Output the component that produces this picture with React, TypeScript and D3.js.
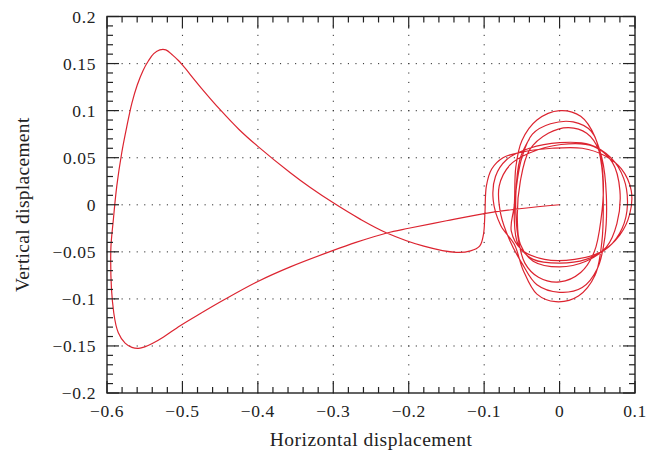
import React, { useRef, useEffect } from 'react';
import * as d3 from 'd3';

// axis setup
const xDomain: [number, number] = [-0.6, 0.1];
const yDomain: [number, number] = [-0.2, 0.2];
const xTickValues = [-0.6, -0.5, -0.4, -0.3, -0.2, -0.1, 0, 0.1];
const yTickValues = [-0.2, -0.15, -0.1, -0.05, 0, 0.05, 0.1, 0.15, 0.2];
const xLabel = 'Horizontal displacement';
const yLabel = 'Vertical displacement';

// trajectory: long excursion to the left
const tailX = [0, -0.05, -0.1, -0.15, -0.2, -0.229, -0.27, -0.3, -0.357, -0.4, -0.446, -0.475, -0.503, -0.525, -0.54, -0.55, -0.558, -0.567, -0.576, -0.585, -0.591, -0.595, -0.5916, -0.587, -0.5805, -0.574, -0.567, -0.56, -0.552, -0.545, -0.538, -0.53, -0.522, -0.513, -0.505, -0.5, -0.475, -0.45, -0.425, -0.4, -0.357, -0.33, -0.3, -0.265, -0.229, -0.18, -0.137, -0.118, -0.106, -0.101, -0.099];
const tailY = [0, -0.004, -0.0095, -0.017, -0.025, -0.03, -0.04, -0.0485, -0.066, -0.0815, -0.1015, -0.115, -0.1285, -0.1405, -0.1475, -0.151, -0.1525, -0.1515, -0.147, -0.136, -0.115, -0.05, -0.016, 0.02, 0.055, 0.082, 0.108, 0.127, 0.143, 0.153, 0.1605, 0.1645, 0.1645, 0.159, 0.153, 0.1485, 0.124, 0.101, 0.08, 0.062, 0.034, 0.018, 0.002, -0.015, -0.03, -0.044, -0.0506, -0.049, -0.044, -0.032, -0.01];

// trajectory: oscillation around the origin
const loopX = [
  -0.097, -0.09, -0.075, -0.05, -0.01, 0.03, 0.06, 0.082, 0.095, 0.093, 0.08, 0.055, 0.02, -0.02, -0.05, -0.064,
  -0.06, -0.058, -0.05, -0.03, 0, 0.028, 0.047, 0.056, 0.058, 0.056, 0.047, 0.025, -0.005, -0.03, -0.048, -0.06,
  -0.078, -0.088, -0.085, -0.07, -0.04, 0, 0.04, 0.068, 0.085, 0.09, 0.083, 0.065, 0.035, 0, -0.035, -0.055,
  -0.06, -0.057, -0.05, -0.036, -0.012, 0.018, 0.042, 0.056, 0.062, 0.06, 0.05, 0.03, 0, -0.03, -0.05,
  -0.066, -0.078, -0.08, -0.066, -0.04, 0.002, 0.045, 0.07, 0.08, 0.076, 0.062, 0.035, 0, -0.035, -0.052,
  -0.056, -0.052, -0.04, -0.015, 0.012, 0.036, 0.052, 0.058, 0.055, 0.046, 0.028, 0.0, -0.028, -0.046, -0.055,
  -0.058, -0.052, -0.04,
];
const loopY = [
  0.02, 0.038, 0.05, 0.056, 0.06, 0.06, 0.052, 0.038, 0.015, -0.01, -0.032, -0.05, -0.058, -0.058, -0.048, -0.028,
  0, 0.04, 0.068, 0.09, 0.1, 0.094, 0.072, 0.04, 0, -0.04, -0.075, -0.097, -0.103, -0.095, -0.07, -0.042,
  -0.022, 0.005, 0.03, 0.048, 0.06, 0.066, 0.064, 0.05, 0.028, 0, -0.025, -0.045, -0.058, -0.062, -0.058, -0.042,
  -0.015, 0.02, 0.05, 0.075, 0.086, 0.088, 0.078, 0.05, 0.01, -0.035, -0.068, -0.088, -0.093, -0.085, -0.062,
  -0.038, -0.01, 0.02, 0.042, 0.055, 0.064, 0.062, 0.045, 0.015, -0.02, -0.045, -0.06, -0.066, -0.06, -0.042,
  -0.015, 0.025, 0.058, 0.076, 0.082, 0.076, 0.058, 0.025, -0.015, -0.05, -0.072, -0.082, -0.077, -0.062, -0.035,
  0.01, 0.05, 0.07,
];

function PhaseChart({ width = 659, height = 455 }) {
  const svgRef = useRef<SVGSVGElement>(null);

  useEffect(() => {
    d3.select(svgRef.current).selectAll('*').remove();

    const margin = { top: 16.5, right: 24, bottom: 62, left: 107 };
    const innerWidth = width - margin.left - margin.right;
    const innerHeight = height - margin.top - margin.bottom;

    const x = d3.scaleLinear().domain(xDomain).range([0, innerWidth]);
    const y = d3.scaleLinear().domain(yDomain).range([innerHeight, 0]);

    const svg = d3.select(svgRef.current)
      .attr('width', width)
      .attr('height', height)
      .append('g')
      .attr('transform', `translate(${margin.left},${margin.top})`);

    const ink = '#222';
    const font = 'Liberation Serif, Times New Roman, serif';

    // dotted grid: one dot every 0.01 along each major line
    const grid = svg.append('g').attr('fill', '#333');
    const xDots = d3.range(0, 71).map(i => xDomain[0] + i * 0.01);
    const yDots = d3.range(0, 41).map(i => yDomain[0] + i * 0.01);
    yTickValues.slice(1, -1).forEach(v => {
      grid.selectAll(null).data(xDots).enter().append('rect')
        .attr('x', d => x(d) - 0.5).attr('y', y(v) - 0.5)
        .attr('width', 1.1).attr('height', 1.1);
    });
    xTickValues.slice(1, -1).forEach(v => {
      grid.selectAll(null).data(yDots).enter().append('rect')
        .attr('x', x(v) - 0.5).attr('y', d => y(d) - 0.5)
        .attr('width', 1.1).attr('height', 1.1);
    });

    // trajectory
    const pts: [number, number][] = [
      ...tailX.map((v, i) => [v, tailY[i]] as [number, number]),
      ...loopX.map((v, i) => [v, loopY[i]] as [number, number]),
    ];
    const line = d3.line<[number, number]>()
      .x(d => x(d[0]))
      .y(d => y(d[1]))
      .curve(d3.curveCatmullRom.alpha(0.5));

    svg.append('path')
      .datum(pts)
      .attr('fill', 'none')
      .attr('stroke', '#dc2430')
      .attr('stroke-width', 1.2)
      .attr('stroke-linejoin', 'round')
      .attr('d', line);

    // frame with inward ticks on all four sides
    const xMinor = d3.range(0, 36).map(i => xDomain[0] + i * 0.02);
    const yMinor = d3.range(0, 41).map(i => yDomain[0] + i * 0.01);
    const isMajorX = (v: number) => xTickValues.some(t => Math.abs(t - v) < 1e-6);
    const isMajorY = (v: number) => yTickValues.some(t => Math.abs(t - v) < 1e-6);

    const ticks = svg.append('g').attr('stroke', ink).attr('stroke-width', 1.2);
    xMinor.forEach(v => {
      const len = isMajorX(v) ? 12 : 6;
      ticks.append('line').attr('x1', x(v)).attr('x2', x(v)).attr('y1', innerHeight).attr('y2', innerHeight - len);
      ticks.append('line').attr('x1', x(v)).attr('x2', x(v)).attr('y1', 0).attr('y2', len);
    });
    yMinor.forEach(v => {
      const len = isMajorY(v) ? 12 : 6;
      ticks.append('line').attr('x1', 0).attr('x2', len).attr('y1', y(v)).attr('y2', y(v));
      ticks.append('line').attr('x1', innerWidth).attr('x2', innerWidth - len).attr('y1', y(v)).attr('y2', y(v));
    });

    svg.append('rect')
      .attr('width', innerWidth)
      .attr('height', innerHeight)
      .attr('fill', 'none')
      .attr('stroke', ink)
      .attr('stroke-width', 1.4);

    const fmt = (v: number) => (Math.abs(v) < 1e-9 ? '0' : d3.format('~g')(v).replace('-', '\u2212'));

    // tick labels
    svg.append('g').selectAll('text').data(xTickValues).enter().append('text')
      .attr('x', d => x(d))
      .attr('y', innerHeight + 24)
      .attr('text-anchor', 'middle')
      .attr('font-family', font)
      .attr('font-size', 17.5)
      .style('letter-spacing', '0.6px')
      .attr('fill', ink)
      .text(d => fmt(d));

    svg.append('g').selectAll('text').data(yTickValues).enter().append('text')
      .attr('x', -11)
      .attr('y', d => y(d) + 6)
      .attr('text-anchor', 'end')
      .attr('font-family', font)
      .attr('font-size', 17.5)
      .style('letter-spacing', '0.6px')
      .attr('fill', ink)
      .text(d => fmt(d));

    // axis titles
    svg.append('text')
      .attr('x', innerWidth / 2)
      .attr('y', innerHeight + 53)
      .attr('text-anchor', 'middle')
      .attr('font-family', font)
      .attr('font-size', 19.5)
      .style('letter-spacing', '0.5px')
      .attr('fill', ink)
      .text(xLabel);

    svg.append('text')
      .attr('transform', 'rotate(-90)')
      .attr('x', -innerHeight / 2)
      .attr('y', -78)
      .attr('text-anchor', 'middle')
      .attr('font-family', font)
      .attr('font-size', 19.5)
      .style('letter-spacing', '0.3px')
      .attr('fill', ink)
      .text(yLabel);
  }, [width, height]);

  return <svg ref={svgRef} style={{ position: 'absolute', left: 0, top: 0 }}></svg>;
}

export default function App() {
  return <PhaseChart />;
}
